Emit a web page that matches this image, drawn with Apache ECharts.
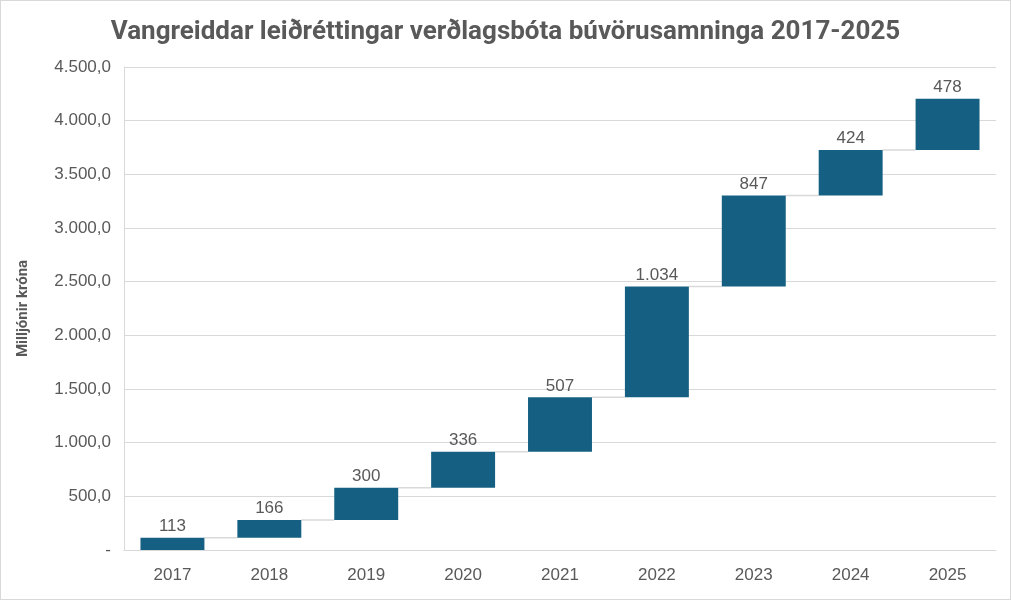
<!DOCTYPE html>
<html>
<head>
<meta charset="utf-8">
<script src="https://cdn.jsdelivr.net/npm/echarts@6/dist/echarts.min.js"></script>
<style>
 html,body{margin:0;padding:0;background:#fff;}
 #chart{width:1011px;height:600px;box-sizing:border-box;border:1px solid #d9d9d9;}
</style>
</head>
<body>
<div id="chart"></div>
<script>
var years = ['2017', '2018', '2019', '2020', '2021', '2022', '2023', '2024', '2025'];
var increments = [113, 166, 300, 336, 507, 1034, 847, 424, 478];

// waterfall: base = running total before each year
var bases = [];
var totals = [];
var run = 0;
for (var i = 0; i < increments.length; i++) {
    bases.push(run);
    run += increments[i];
    totals.push(run);
}
var connectors = [];
for (var j = 0; j < totals.length - 1; j++) {
    connectors.push([j, totals[j]]);
}

function isNum(v, dec) {
    var s = v.toFixed(dec);
    var parts = s.split('.');
    parts[0] = parts[0].replace(/\B(?=(\d{3})+(?!\d))/g, '.');
    return parts.join(',');
}

var chart = echarts.init(document.getElementById('chart'));
var grey = '#595959';
var option = {
    animation: false,
    title: {
        text: 'Vangreiddar leiðréttingar verðlagsbóta búvörusamninga 2017-2025',
        left: 'center',
        top: 13,
        textStyle: {
            color: grey,
            fontSize: 26,
            fontWeight: 'bold',
            fontFamily: 'Roboto'
        }
    },
    grid: {
        left: 123,
        right: 14,
        top: 66,
        bottom: 49
    },
    xAxis: {
        type: 'category',
        data: years,
        axisTick: { show: false },
        axisLine: { lineStyle: { color: '#d9d9d9' } },
        axisLabel: {
            color: grey,
            fontSize: 17,
            fontFamily: 'Liberation Sans',
            margin: 17
        }
    },
    yAxis: {
        type: 'value',
        min: 0,
        max: 4500,
        interval: 500,
        name: 'Milljónir króna',
        nameLocation: 'middle',
        nameGap: 93,
        nameTextStyle: {
            color: grey,
            fontSize: 15,
            fontWeight: 'bold',
            fontFamily: 'Roboto'
        },
        axisLine: { show: true, lineStyle: { color: '#d9d9d9' } },
        splitLine: { lineStyle: { color: '#d9d9d9' } },
        axisLabel: {
            color: grey,
            fontSize: 17,
            fontFamily: 'Liberation Sans',
            margin: 13,
            formatter: function (v) {
                return v === 0 ? '-' : isNum(v, 1);
            }
        }
    },
    series: [{
        name: 'base',
        type: 'bar',
        stack: 'w',
        barWidth: '66%',
        itemStyle: { color: 'transparent' },
        silent: true,
        data: bases
    }, {
        name: 'hækkun',
        type: 'bar',
        stack: 'w',
        itemStyle: { color: '#156082' },
        label: {
            show: true,
            position: 'top',
            distance: 3,
            color: grey,
            fontSize: 17,
            fontFamily: 'Liberation Sans',
            formatter: function (p) { return isNum(p.value, 0); }
        },
        data: increments
    }, {
        name: 'connector',
        type: 'custom',
        silent: true,
        z: 1,
        renderItem: function (params, api) {
            var p = api.coord([api.value(0), api.value(1)]);
            var bw = api.size([1, 0])[0];
            return {
                type: 'line',
                shape: { x1: p[0] + bw * 0.33, y1: p[1], x2: p[0] + bw * 0.67, y2: p[1] },
                style: { stroke: '#d9d9d9', lineWidth: 1.5 }
            };
        },
        data: connectors
    }]
};
chart.setOption(option);
</script>
</body>
</html>
